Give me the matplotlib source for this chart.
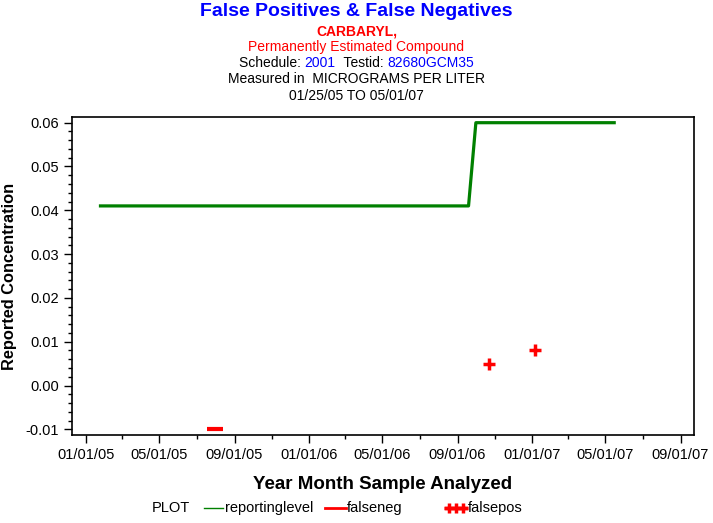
import matplotlib
matplotlib.use("Agg")
import matplotlib.pyplot as plt
import matplotlib.dates as mdates
from matplotlib.lines import Line2D
from matplotlib.ticker import MultipleLocator
import datetime as dt

plt.rcParams['font.family'] = ['Liberation Sans', 'DejaVu Sans']

# Reporting level (step line)
rl_dates = ["2005-01-22", "2006-09-19", "2006-10-01", "2007-05-18"]
rl_values = [0.041, 0.041, 0.060, 0.060]

# False negatives
fn_dates = ["2005-07-31"]
fn_values = [-0.010]

# False positives
fp_dates = ["2006-10-23", "2007-01-06"]
fp_values = [0.005, 0.008]

tick_dates = ["2005-01-01", "2005-05-01", "2005-09-01", "2006-01-01", "2006-05-01",
              "2006-09-01", "2007-01-01", "2007-05-01", "2007-09-01"]

to_dt = lambda lst: [dt.datetime.strptime(s, "%Y-%m-%d") for s in lst]

fig = plt.figure(figsize=(7.13, 5.23), dpi=100)
ax = fig.add_axes([72/713, 1 - 435/523, (694-72)/713, (435-117)/523])

ax.plot(to_dt(rl_dates), rl_values, color="#008000", lw=2.3, solid_capstyle="butt")
ax.plot(to_dt(fn_dates), fn_values, linestyle="none", marker="_", color="red",
        markersize=11, markeredgewidth=3)
ax.plot(to_dt(fp_dates), fp_values, linestyle="none", marker="+", color="red",
        markersize=8, markeredgewidth=2.5)

ax.set_xlim(dt.datetime(2004, 12, 9), dt.datetime(2007, 9, 23))
ax.set_ylim(-0.0113, 0.0613)
ax.set_xticks(to_dt(tick_dates))
ax.xaxis.set_major_formatter(mdates.DateFormatter("%m/%d/%y"))
ax.xaxis.set_minor_locator(mdates.MonthLocator(bymonth=[3, 7, 11]))
ax.yaxis.set_major_locator(MultipleLocator(0.01))
ax.yaxis.set_minor_locator(MultipleLocator(0.002))
ax.yaxis.set_major_formatter(plt.FuncFormatter(lambda v, p: f"{v:.2f}"))
ax.tick_params(which="major", direction="out", length=6, width=1, labelsize=10.5, colors="black")
ax.tick_params(which="minor", direction="out", length=3, width=1)
for s in ax.spines.values():
    s.set_linewidth(1.2)

ax.set_ylabel("Reported Concentration", fontsize=11.8, fontweight="bold")
ax.yaxis.set_label_coords((17 - 72) / 622, 0.5)
ax.set_xlabel("Year Month Sample Analyzed", fontsize=13.5, fontweight="bold", labelpad=10)

# Titles
fig.text(0.5, 1 - 12/523, "False Positives & False Negatives", ha="center", va="center",
         fontsize=14, fontweight="bold", color="#0000ff")
fig.text(0.5, 1 - 31/523, "CARBARYL,", ha="center", va="center", fontsize=10,
         fontweight="bold", color="red")
fig.text(0.5, 1 - 47/523, "Permanently Estimated Compound", ha="center", va="center",
         fontsize=10, color="red")
# Schedule line with mixed colours
parts = [("Schedule: ", "black"), ("2001", "#0000ff"), ("  Testid: ", "black"), ("82680GCM35", "#0000ff")]
fig.canvas.draw()
renderer = fig.canvas.get_renderer()
widths = []
texts = []
for s, c in parts:
    t = fig.text(0, 1 - 63/523, s, ha="left", va="center", fontsize=10, color=c)
    texts.append(t)
    widths.append(t.get_window_extent(renderer).width / fig.bbox.width)
x0 = 0.5 - sum(widths) / 2
for t, w in zip(texts, widths):
    t.set_x(x0)
    x0 += w
fig.text(0.5, 1 - 79/523, "Measured in  MICROGRAMS PER LITER", ha="center", va="center", fontsize=10)
fig.text(0.5, 1 - 96/523, "01/25/05 TO 05/01/07", ha="center", va="center", fontsize=10)

# Legend
ly = 1 - 508/523
fig.text(152/713, ly, "PLOT", ha="left", va="center", fontsize=10.5)
fig.add_artist(Line2D([204/713, 223/713], [ly, ly], color="#008000", lw=1))
fig.text(225/713, ly, "reportinglevel", ha="left", va="center", fontsize=10.5)
fig.add_artist(Line2D([325/713, 346/713], [ly, ly], color="red", lw=2))
fig.text(347/713, ly, "falseneg", ha="left", va="center", fontsize=10.5)
fig.add_artist(Line2D([446/713, 466/713], [ly, ly], color="red", lw=2.5))
fig.add_artist(Line2D([449/713, 456/713, 463/713], [ly] * 3, color="red", linestyle="none",
                      marker="+", markersize=7, markeredgewidth=2.5))
fig.text(468/713, ly, "falsepos", ha="left", va="center", fontsize=10.5)

fig.savefig("out.png", dpi=100)
